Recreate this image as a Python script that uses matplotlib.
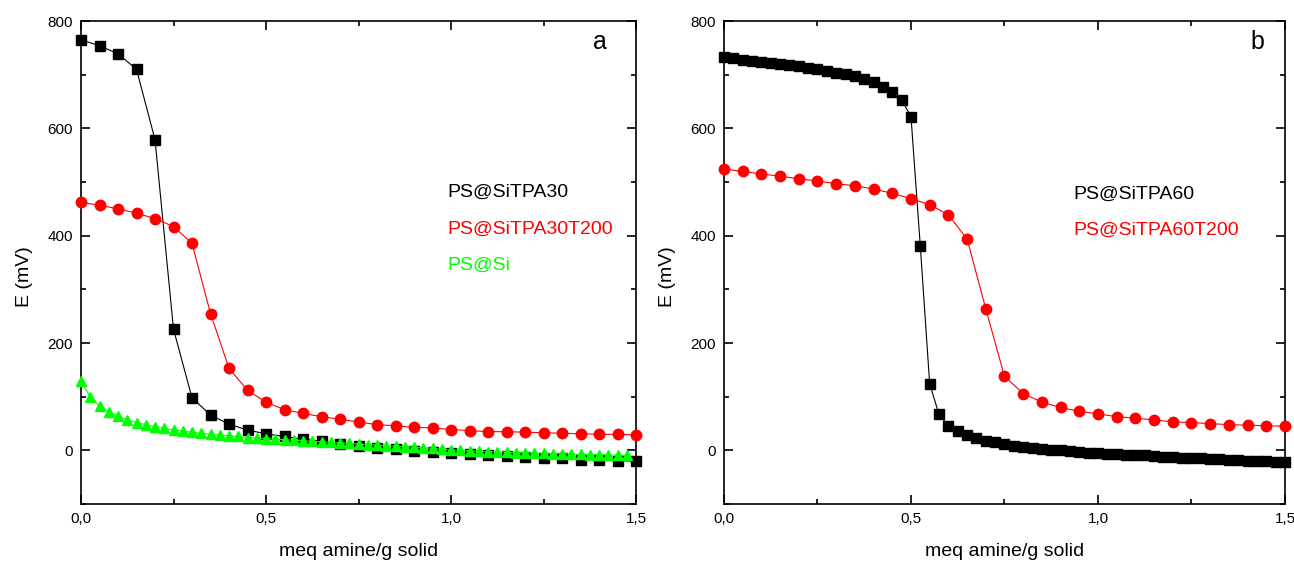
import numpy as np
import matplotlib
matplotlib.use("Agg")
import matplotlib.pyplot as plt
from matplotlib.ticker import MultipleLocator, FuncFormatter

plt.rcParams['font.family'] = ['Liberation Sans', 'DejaVu Sans']

# panel a
x_a_black = [round(0.05 * i, 3) for i in range(31)]
e_a_black = [765, 754, 739, 710, 579, 226, 98, 66, 49, 38, 31, 26, 21, 17, 12, 9,
             5, 2, -1, -3, -5, -7, -9, -10, -12, -14, -15, -17, -18, -19, -20]
x_a_red = [round(0.05 * i, 3) for i in range(31)]
e_a_red = [462, 457, 450, 442, 432, 417, 386, 255, 153, 112, 90, 76, 69, 63, 58, 53,
           48, 46, 43, 42, 39, 37, 35, 35, 34, 33, 32, 31, 30, 30, 29]
x_a_green = [round(0.025 * i, 3) for i in range(60)]
e_a_green = [129, 100, 83, 72, 64, 57, 52, 48, 44, 41, 38, 36, 34, 32, 30, 29, 27, 26,
             24, 23, 22, 21, 20, 19, 18, 17, 16, 15, 14, 13, 12, 11, 10, 9, 8, 7, 6, 5,
             4, 2, 1, 0, -1, -1, -2, -3, -3, -4, -4, -5, -5, -6, -6, -7, -7, -8, -8,
             -8, -9, -9]

# panel b
x_b_black = [round(0.025 * i, 3) for i in range(61)]
e_b_black = [733, 731, 728, 726, 724, 722, 720, 718, 716, 713, 710, 707, 704, 701, 697,
             692, 686, 678, 668, 653, 622, 380,
             124, 67, 46, 36, 28, 23, 18, 15, 12, 9, 7, 5, 3, 1, 1, -1, -2, -4, -5, -6,
             -6, -8, -9, -9, -11, -12, -12, -14, -14, -15, -16, -16, -17, -18, -19,
             -19, -20, -21, -22]
x_b_red = [round(0.05 * i, 3) for i in range(31)]
e_b_red = [524, 520, 515, 511, 506, 502, 497, 493, 487, 479, 469, 458, 439, 394, 264,
           138, 106, 90, 80, 73, 68, 63, 60, 57, 53, 52, 50, 48, 47, 46, 45]

labels_a = ["PS@SiTPA30", "PS@SiTPA30T200", "PS@Si"]
labels_b = ["PS@SiTPA60", "PS@SiTPA60T200"]

fig = plt.figure(figsize=(12.94, 5.62), dpi=100)
ax1 = fig.add_axes([0.0626, 0.103, 0.4289, 0.8596])
ax2 = fig.add_axes([0.5595, 0.103, 0.4335, 0.8596])

ax1.plot(x_a_black, e_a_black, color='black', lw=0.8, marker='s', ms=6.5, mec='black', clip_on=False, zorder=3)
ax1.plot(x_a_red, e_a_red, color='red', lw=0.8, marker='o', ms=7.5, mec='red', clip_on=False, zorder=3)
ax1.plot(x_a_green, e_a_green, color='#00ff00', lw=0.8, marker='^', ms=7.5, mec='#00ff00', clip_on=False, zorder=4)

ax2.plot(x_b_black, e_b_black, color='black', lw=0.8, marker='s', ms=6.5, mec='black', clip_on=False, zorder=3)
ax2.plot(x_b_red, e_b_red, color='red', lw=0.8, marker='o', ms=7.5, mec='red', clip_on=False, zorder=3)

comma = FuncFormatter(lambda v, p: ('%.1f' % v).replace('.', ','))
for ax in (ax1, ax2):
    ax.set_xlim(0, 1.5)
    ax.set_ylim(-100, 800)
    ax.xaxis.set_major_locator(MultipleLocator(0.5))
    ax.xaxis.set_minor_locator(MultipleLocator(0.25))
    ax.yaxis.set_major_locator(MultipleLocator(200))
    ax.yaxis.set_minor_locator(MultipleLocator(100))
    ax.xaxis.set_major_formatter(comma)
    ax.tick_params(which='both', direction='in', top=True, right=True, labelsize=11, width=1.2, pad=6)
    ax.tick_params(which='major', length=6.5)
    ax.tick_params(which='minor', length=3.6)
    for s in ax.spines.values():
        s.set_linewidth(1.2)
    ax.set_xlabel('meq amine/g solid', fontsize=14, labelpad=12)
    ax.set_ylabel('E (mV)', fontsize=14)

ax1.yaxis.set_label_coords(-0.087, 0.47)
ax2.yaxis.set_label_coords(-0.086, 0.47)

ax1.text(0.948, 0.957, 'a', transform=ax1.transAxes, fontsize=18, ha='right', va='center')
ax2.text(0.963, 0.957, 'b', transform=ax2.transAxes, fontsize=18, ha='right', va='center')

for txt, col, yy in zip(labels_a, ['black', 'red', '#00ff00'], [0.646, 0.569, 0.495]):
    ax1.text(0.66, yy, txt, color=col, transform=ax1.transAxes, fontsize=14, va='center')
for txt, col, yy in zip(labels_b, ['black', 'red'], [0.642, 0.567]):
    ax2.text(0.622, yy, txt, color=col, transform=ax2.transAxes, fontsize=14, va='center')

fig.savefig('out.png', dpi=100)
